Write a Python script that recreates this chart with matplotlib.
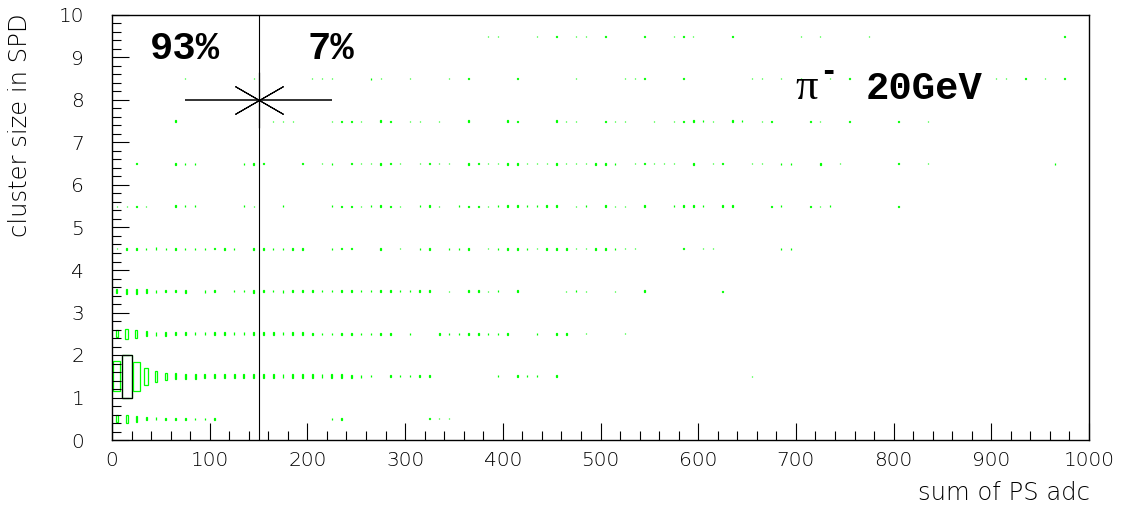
import numpy as np
import matplotlib
matplotlib.use("Agg")
import matplotlib.pyplot as plt
from matplotlib.patches import Rectangle
from matplotlib.ticker import MultipleLocator

# 2D histogram (box style): x bins of 10 adc, y bins of 1 (cluster size)
# each row: lower edge of x bin, bin content
row0_bins = [0, 10, 20, 30, 40, 50, 60, 70, 80, 90, 100, 220, 230, 320, 330, 340]
row0_cnt = [26, 40, 20, 6, 6, 3, 3, 3, 3, 3, 3, 2, 2, 1, 1, 1]

row1_bins = [0, 10, 20, 30, 40, 50, 60, 70, 80, 90,
             100, 110, 120, 130, 140, 150, 160, 170, 180, 190, 200, 210, 220, 230,
             240, 250, 260, 280, 290, 300, 310, 320, 390, 410, 420, 430, 450, 650]
row1_cnt = [490, 1000, 460, 160, 62, 29, 20, 14, 12, 10,
            8, 8, 8, 8, 8, 8, 8, 8, 8, 8, 7, 7, 7, 7,
            4, 4, 3, 3, 3, 3, 3, 3, 2, 2, 2, 2, 3, 1]

row2_bins = [0, 10, 20, 30, 40, 50, 60, 70, 80, 90, 100, 110, 120, 130, 140, 150,
             160, 170, 180, 190, 200, 210, 220, 230, 240, 250, 260, 270, 280, 300,
             330, 340, 350, 360, 370, 380, 390, 400, 430, 450, 460, 480, 520]
row2_cnt = [26, 58, 36, 15, 8, 8, 5, 4, 4, 4, 4, 4, 4, 4, 4, 4,
            4, 4, 4, 4, 3, 3, 3, 3, 3, 3, 3, 3, 3, 3,
            2, 3, 2, 3, 2, 3, 2, 3, 2, 3, 2, 1, 1]

row3_bins = [0, 10, 20, 30, 40, 50, 60, 70, 90, 100, 120, 130, 140, 150, 160, 170,
             180, 190, 200, 210, 220, 230, 240, 250, 260, 270, 280, 290, 300, 310,
             320, 340, 360, 370, 380, 390, 410, 460, 470, 480, 510, 540, 620]
row3_cnt = [8, 14, 14, 8, 5, 3, 3, 5, 4, 3, 3, 3, 4, 3, 3, 4,
            3, 2, 3, 2, 3, 3, 2, 3, 3, 3, 2, 3, 2, 3,
            2, 1, 2, 2, 1, 2, 2, 1, 2, 1, 1, 2, 1]

row4_bins = [0, 10, 20, 30, 40, 50, 60, 70, 80, 90, 100, 110, 120, 140, 150, 160,
             170, 180, 190, 220, 230, 240, 270, 290, 310, 320, 340, 350, 360, 380,
             390, 400, 410, 420, 430, 440, 450, 460, 470, 480, 490, 500, 510, 520,
             530, 580, 600, 610, 680, 690]
row4_cnt = [1, 2, 2, 2, 4, 2, 2, 2, 2, 2, 1, 2, 2, 3, 2, 2,
            3, 3, 2, 2, 1, 1, 2, 1, 2, 2, 3, 2, 2, 1,
            2, 2, 3, 2, 1, 3, 2, 2, 1, 1, 3, 3, 2, 1,
            1, 1, 1, 1, 2, 2]

row5_bins = [0, 10, 20, 30, 60, 70, 80, 130, 140, 170, 220, 230, 240, 250, 260, 270,
             280, 290, 310, 320, 330, 350, 360, 370, 380, 390, 400, 410, 420, 430,
             440, 450, 470, 480, 500, 510, 520, 540, 570, 580, 590, 600, 620, 630,
             670, 680, 710, 720, 730, 800]
row5_cnt = [1, 1, 1, 1, 2, 2, 2, 2, 1, 3, 2, 1, 1, 1, 2, 2,
            1, 1, 2, 2, 1, 2, 1, 1, 1, 2, 2, 2, 2, 2,
            3, 3, 1, 2, 2, 1, 1, 2, 2, 2, 2, 2, 2, 2,
            1, 2, 1, 1, 2, 1]

row6_bins = [20, 60, 70, 80, 130, 140, 150, 190, 210, 220, 240, 250, 260, 270, 280,
             290, 310, 320, 330, 340, 360, 370, 380, 390, 400, 410, 420, 430, 440,
             450, 460, 470, 480, 490, 500, 510, 530, 540, 550, 560, 570, 590, 610,
             620, 650, 660, 680, 690, 720, 740, 800, 830, 960]
row6_cnt = [1, 2, 2, 2, 2, 2, 1, 1, 1, 2, 1, 1, 1, 2, 1,
            1, 1, 1, 1, 1, 2, 1, 1, 1, 2, 2, 1, 1, 1,
            2, 1, 1, 1, 2, 2, 2, 1, 1, 1, 1, 1, 2, 1,
            1, 1, 1, 2, 2, 2, 1, 1, 1, 3]

row7_bins = [60, 160, 170, 180, 220, 230, 240, 250, 270, 280, 300, 310, 330, 360,
             400, 410, 450, 460, 470, 500, 510, 520, 550, 570, 580, 590, 600, 610,
             630, 640, 660, 670, 710, 720, 750, 800, 830]
row7_cnt = [2, 1, 1, 1, 1, 1, 1, 1, 2, 1, 1, 1, 1, 2,
            2, 1, 2, 1, 1, 1, 1, 1, 1, 1, 1, 2, 2, 1,
            2, 2, 1, 1, 1, 1, 1, 1, 1]

row8_bins = [70, 140, 200, 210, 220, 260, 270, 300, 340, 360, 410, 470, 520, 530,
             540, 580, 650, 660, 680, 700, 730, 750, 900, 910, 930, 950, 970]
row8_cnt = [1, 1, 1, 1, 1, 2, 1, 1, 1, 1, 1, 1, 1, 1,
            1, 1, 1, 1, 1, 1, 1, 1, 1, 1, 1, 1, 1]

row9_bins = [380, 390, 430, 450, 470, 480, 500, 540, 570, 580, 590, 630, 700, 720, 770, 970]
row9_cnt = [1, 1, 1, 1, 1, 1, 1, 1, 1, 1, 1, 1, 1, 1, 1, 1]

rows = [(row0_bins, row0_cnt), (row1_bins, row1_cnt), (row2_bins, row2_cnt),
        (row3_bins, row3_cnt), (row4_bins, row4_cnt), (row5_bins, row5_cnt),
        (row6_bins, row6_cnt), (row7_bins, row7_cnt), (row8_bins, row8_cnt),
        (row9_bins, row9_cnt)]

bin_w = 10
cut_x = 150          # separation cut
mark_x, mark_y, mark_err = 150, 8, 75
frac_left, frac_right = "93%", "7%"

fig = plt.figure(figsize=(11.26, 5.16), dpi=100)
ax = fig.add_axes([112 / 1126, 76 / 516, 977 / 1126, 425 / 516])
ax.set_xlim(0, 1000)
ax.set_ylim(0, 10)

cmax = max(max(c) for _, c in rows)
for iy, (bins, cnt) in enumerate(rows):
    for x0, c in zip(bins, cnt):
        f = np.sqrt(c / cmax)     # box area ~ content
        w, h = bin_w * f, 1.0 * f
        xc, yc = x0 + bin_w / 2, iy + 0.5
        ax.add_patch(Rectangle((xc - w / 2, yc - h / 2), w, h, fill=False,
                               edgecolor="#00ff00", lw=0.9))
        if c == cmax:
            ax.add_patch(Rectangle((x0, iy), bin_w, 1, fill=False,
                                   edgecolor="black", lw=0.9))

ax.axvline(cut_x, color="black", lw=0.8)
ax.errorbar([mark_x], [mark_y], xerr=[mark_err], fmt="none", ecolor="#333333",
            elinewidth=1.4, capsize=0)
ax.plot([mark_x], [mark_y], marker=(6, 2, 0), ms=40, mew=0.8, color="black",
        ls="none")

mono = dict(family="Liberation Mono", weight="bold", size=28, va="baseline")
ax.text(39, 8.96, frac_left, **mono)
ax.text(200, 8.96, frac_right, **mono)
ax.text(699, 8.02, "π", family="Liberation Serif", size=32, va="baseline")
ax.text(733, 8.67, "-", family="Liberation Mono", weight="bold", size=22,
        ha="center", va="center")
ax.text(771, 8.02, "20GeV", **mono)

ax.set_xticks(np.arange(0, 1001, 100))
ax.xaxis.set_minor_locator(MultipleLocator(20))
ax.set_yticks(np.arange(0, 11, 1))
ax.yaxis.set_minor_locator(MultipleLocator(0.2))
ax.tick_params(which="both", direction="in", top=False, right=False,
               labelsize=14.5, width=0.8)
ax.tick_params(which="major", length=12.5)
ax.tick_params(which="minor", length=6.5)
ax.tick_params(axis="x", pad=8)
ax.tick_params(axis="y", pad=20)
for lab in ax.get_xticklabels() + ax.get_yticklabels():
    lab.set_fontweight(200)
for s in ax.spines.values():
    s.set_linewidth(1.0)

fig.text(1090 / 1126, 1 - 500 / 516, "sum of PS adc", ha="right", va="baseline",
         size=17.5, weight=200)
fig.text(20 / 1126, 1 - 13 / 516, "cluster size in SPD", rotation=90,
         ha="center", va="top", size=17.5, weight=200)

fig.savefig("out.png", dpi=100)
